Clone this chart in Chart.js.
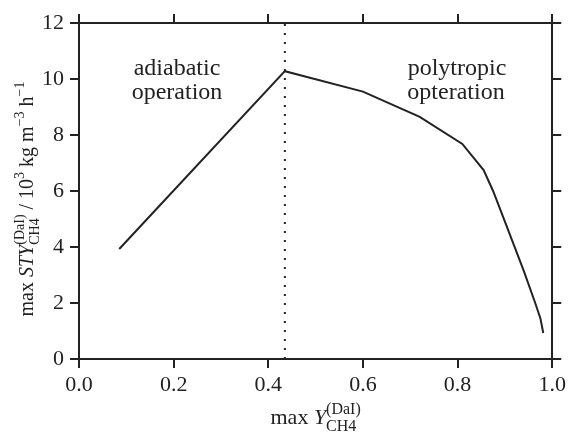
<!DOCTYPE html>
<html>
<head>
<meta charset="utf-8">
<script src="https://cdn.jsdelivr.net/npm/chart.js@4.4.1/dist/chart.umd.min.js"></script>
<style>
  html, body { margin: 0; padding: 0; background: #fff; }
  #wrap { width: 570px; height: 435px; }
</style>
</head>
<body>
<div id="wrap"><canvas id="canvas"></canvas></div>
<script>
// max methane yield vs. max space-time yield
var yieldX = [0.085, 0.435, 0.6, 0.72, 0.81, 0.855, 0.875, 0.9, 0.94, 0.964, 0.975, 0.981];
var styY = [3.93, 10.28, 9.55, 8.65, 7.68, 6.75, 6.0, 4.91, 3.14, 2.0, 1.45, 0.93];
// boundary between adiabatic and polytropic operation
var boundaryX = 0.435;
var xTicks = [0, 0.2, 0.4, 0.6, 0.8, 1.0];
var yTicks = [0, 2, 4, 6, 8, 10, 12];

var ink = '#222';
var serif = '"Liberation Serif", "DejaVu Serif", serif';

function init() {
  var curve = [];
  for (var i = 0; i < yieldX.length; i++) {
    curve.push({x: yieldX[i], y: styY[i]});
  }
  var boundary = [{x: boundaryX, y: yTicks[0]}, {x: boundaryX, y: yTicks[yTicks.length - 1]}];

  // draws a run of text pieces, some italic, some raised or lowered
  function drawRich(ctx, parts, x, y, big, small) {
    var total = 0;
    var widths = [];
    var up = Math.round(big * 0.45), down = Math.round(big * 0.3);
    parts.forEach(function(p) {
      var w;
      if (p.stack) {
        ctx.font = small + 'px ' + serif;
        w = Math.max(ctx.measureText(p.stack[0]).width, ctx.measureText(p.stack[1]).width);
      } else {
        ctx.font = (p.italic ? 'italic ' : '') + (p.small ? small : big) + 'px ' + serif;
        w = ctx.measureText(p.text).width;
      }
      widths.push(w);
      total += w;
    });
    var cx = x - total / 2;
    ctx.textAlign = 'left';
    ctx.textBaseline = 'alphabetic';
    parts.forEach(function(p, k) {
      if (p.stack) {
        ctx.font = small + 'px ' + serif;
        ctx.fillText(p.stack[0], cx, y - up);
        ctx.fillText(p.stack[1], cx, y + down);
      } else {
        ctx.font = (p.italic ? 'italic ' : '') + (p.small ? small : big) + 'px ' + serif;
        ctx.fillText(p.text, cx, y + (p.small ? -up : 0));
      }
      cx += widths[k];
    });
  }

  var titles = {
    id: 'titles',
    afterDraw: function(chart) {
      var ctx = chart.ctx;
      var area = chart.chartArea;
      ctx.save();
      ctx.fillStyle = ink;
      drawRich(ctx, [
        {text: 'max '},
        {text: 'Y', italic: true},
        {stack: ['(DaI)', 'CH4']}
      ], (area.left + area.right) / 2, 424, 22, 16);

      ctx.translate(33, (area.top + area.bottom) / 2 + 8);
      ctx.rotate(-Math.PI / 2);
      drawRich(ctx, [
        {text: 'max '},
        {text: 'STY', italic: true},
        {stack: ['(DaI)', 'CH4']},
        {text: ' / 10'},
        {text: '3', small: true},
        {text: ' kg m'},
        {text: '\u22123', small: true},
        {text: ' h'},
        {text: '\u22121', small: true}
      ], 0, 0, 20, 14);
      ctx.restore();

      // region labels
      ctx.save();
      ctx.fillStyle = ink;
      ctx.font = '24px ' + serif;
      ctx.textAlign = 'center';
      ctx.textBaseline = 'alphabetic';
      ctx.fillText('adiabatic', 177, 75);
      ctx.fillText('operation', 177, 99);
      ctx.fillText('polytropic', 457, 75);
      ctx.fillText('opteration', 456, 99);
      ctx.restore();
    }
  };

  var grid = {drawOnChartArea: false, drawTicks: true, tickLength: 9, color: ink, lineWidth: 2};
  var border = {display: true, color: ink, width: 2};

  new Chart(document.getElementById('canvas').getContext('2d'), {
    type: 'line',
    data: {
      datasets: [{
        data: curve,
        borderColor: ink,
        borderWidth: 2,
        pointRadius: 0,
        tension: 0,
        fill: false
      }, {
        data: boundary,
        borderColor: ink,
        borderWidth: 2,
        borderDash: [2, 7],
        pointRadius: 0,
        fill: false
      }]
    },
    options: {
      responsive: true,
      maintainAspectRatio: false,
      animation: false,
      events: [],
      layout: {padding: 0},
      plugins: {legend: {display: false}, tooltip: {enabled: false}},
      scales: {
        x: {
          type: 'linear', position: 'bottom',
          min: xTicks[0], max: xTicks[xTicks.length - 1],
          afterBuildTicks: function(s) { s.ticks = xTicks.map(function(v) { return {value: v}; }); },
          ticks: {
            color: ink, padding: 4, maxRotation: 0,
            font: {family: serif, size: 22},
            callback: function(v) { return Number(v).toFixed(1); }
          },
          grid: grid, border: border,
          afterFit: function(s) { s.height = 76; }
        },
        x2: {
          type: 'linear', position: 'top',
          min: xTicks[0], max: xTicks[xTicks.length - 1],
          afterBuildTicks: function(s) { s.ticks = xTicks.map(function(v) { return {value: v}; }); },
          ticks: {display: false},
          grid: grid, border: border,
          afterFit: function(s) { s.height = 23; }
        },
        y: {
          type: 'linear', position: 'left',
          min: yTicks[0], max: yTicks[yTicks.length - 1],
          afterBuildTicks: function(s) { s.ticks = yTicks.map(function(v) { return {value: v}; }); },
          ticks: {color: ink, padding: 6, font: {family: serif, size: 22}},
          grid: grid, border: border,
          afterFit: function(s) { s.width = 79; }
        },
        y2: {
          type: 'linear', position: 'right',
          min: yTicks[0], max: yTicks[yTicks.length - 1],
          afterBuildTicks: function(s) { s.ticks = yTicks.map(function(v) { return {value: v}; }); },
          ticks: {display: false},
          grid: grid, border: border,
          afterFit: function(s) { s.width = 16; }
        }
      }
    },
    plugins: [titles]
  });
}

window.onload = init;
</script>
</body>
</html>
